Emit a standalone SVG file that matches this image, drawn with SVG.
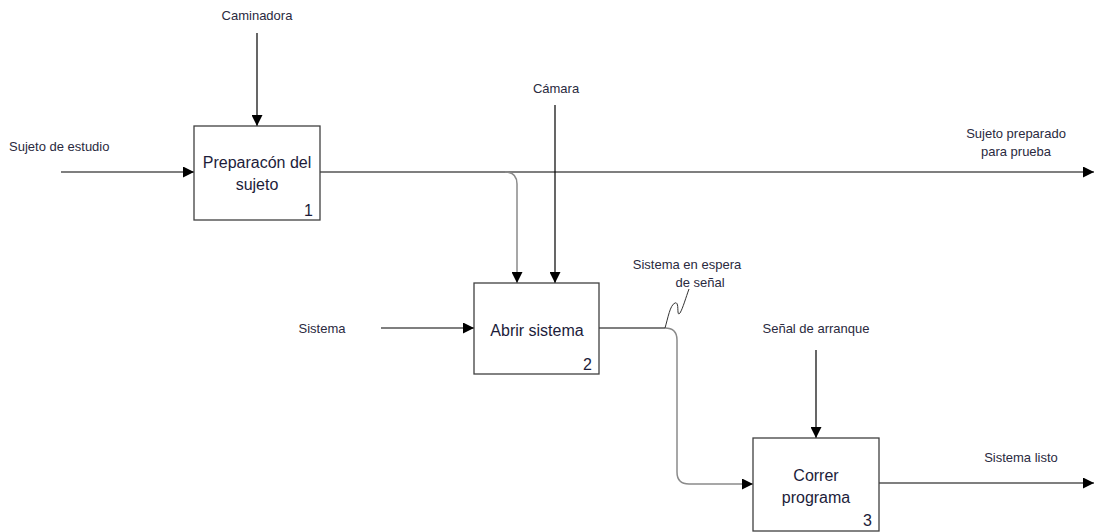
<svg xmlns="http://www.w3.org/2000/svg" width="1094" height="532" viewBox="0 0 1094 532">
<style>
.box{fill:#fff;stroke:#404040;stroke-width:1.3}
.t{font-family:"Liberation Sans",Arial,sans-serif;font-size:16px;fill:#1c1c3a;text-anchor:middle}
.n{font-family:"Liberation Sans",Arial,sans-serif;font-size:16px;fill:#1c1c3a;text-anchor:end}
.l{font-family:"Liberation Sans",Arial,sans-serif;font-size:13px;fill:#2a2a40}
.c{fill:none;stroke:#000;stroke-width:1.2}
.g{fill:none;stroke:#8a8a8a;stroke-width:1.5}
</style>
<defs>
<marker id="a" viewBox="0 0 10 10" refX="10" refY="5" markerWidth="11" markerHeight="11" markerUnits="userSpaceOnUse" orient="auto"><path d="M0,0 L10,5 L0,10 z" fill="#000"/></marker>
</defs>
<g id="connectors">
<line class="c" x1="61" y1="172" x2="194" y2="172" marker-end="url(#a)"/>
<line class="c" x1="257" y1="33" x2="257" y2="126" marker-end="url(#a)"/>
<line class="c" x1="320" y1="172" x2="1094" y2="172" marker-end="url(#a)"/>
<path class="g" d="M505,172 Q517,172 517,184 L517,283" marker-end="url(#a)"/>
<line class="c" x1="555" y1="105" x2="555" y2="283" marker-end="url(#a)"/>
<line class="c" x1="381" y1="328" x2="474" y2="328" marker-end="url(#a)"/>
<line class="c" x1="599" y1="328" x2="665" y2="328"/>
<path class="g" d="M665,328 Q677,328 677,340 L677,472 Q677,484 689,484 L753,484" marker-end="url(#a)"/>
<path fill="none" stroke="#333" stroke-width="1" d="M665,328 C668,318 670,305 675,303 C680,301 676,318 680,313 C683,308 686,297 689,289"/>
<line class="c" x1="816" y1="350" x2="816" y2="438" marker-end="url(#a)"/>
<line class="c" x1="879" y1="483" x2="1094" y2="483" marker-end="url(#a)"/>
</g>
<g id="labels">
<text class="l" x="257" y="20" text-anchor="middle">Caminadora</text>
<text class="l" x="556" y="93" text-anchor="middle">Cámara</text>
<text class="l" x="9" y="151">Sujeto de estudio</text>
<text class="l" x="1016" y="138" text-anchor="middle">Sujeto preparado</text>
<text class="l" x="1016" y="156" text-anchor="middle">para prueba</text>
<text class="l" x="687" y="269" text-anchor="middle">Sistema en espera</text>
<text class="l" x="700" y="287" text-anchor="middle">de señal</text>
<text class="l" x="322" y="333" text-anchor="middle">Sistema</text>
<text class="l" x="816" y="333" text-anchor="middle">Señal de arranque</text>
<text class="l" x="1021" y="462" text-anchor="middle">Sistema listo</text>
</g>
<g id="node1">
<rect class="box" x="194" y="126" width="126" height="94"/>
<text class="t" x="257" y="168">Preparacón del</text>
<text class="t" x="257" y="190">sujeto</text>
<text class="n" x="313" y="216">1</text>
</g>
<g id="node2">
<rect class="box" x="474" y="283" width="125" height="91"/>
<text class="t" x="537" y="336">Abrir sistema</text>
<text class="n" x="592" y="370">2</text>
</g>
<g id="node3">
<rect class="box" x="753" y="438" width="126" height="93"/>
<text class="t" x="816" y="481">Correr</text>
<text class="t" x="816" y="503">programa</text>
<text class="n" x="872" y="526">3</text>
</g>
</svg>
